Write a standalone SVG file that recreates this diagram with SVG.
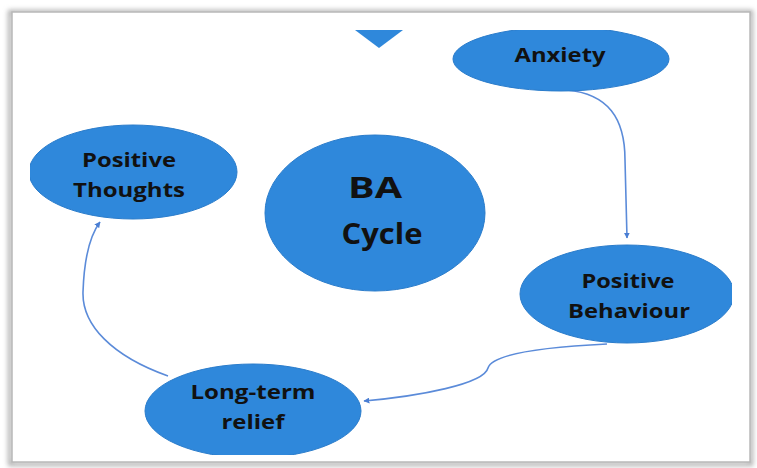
<svg xmlns="http://www.w3.org/2000/svg" width="757" height="468" viewBox="0 0 757 468">
  <style>
    .node { fill: #2F88DB; stroke: #2A7CCB; stroke-width: 1; }
    .lbl { font-family: "Open Sans", Lato, "Liberation Sans", sans-serif; font-weight: bold; font-size: 20px; fill: #111; text-anchor: middle; }
    .big { font-size: 28px; }
    .conn { fill: none; stroke: #5B8BD9; stroke-width: 1.6; }
  </style>
  <defs>
    <marker id="arr" viewBox="0 0 10 10" refX="9" refY="5" markerWidth="6" markerHeight="6" orient="auto" markerUnits="userSpaceOnUse">
      <path d="M0,0 L10,5 L0,10 z" fill="#4A7ED3"/>
    </marker>
    <filter id="shadow" x="-5%" y="-5%" width="110%" height="110%">
      <feGaussianBlur stdDeviation="2.5"/>
    </filter>
    <clipPath id="clip">
      <rect x="30" y="30" width="702" height="425"/>
    </clipPath>
  </defs>
  <rect width="757" height="468" fill="#ffffff"/>
  <g id="frame">
    <rect x="10" y="12" width="741" height="452" fill="none" stroke="#aaaaaa" stroke-width="4" filter="url(#shadow)"/>
    <rect x="12" y="12" width="738" height="450" fill="#ffffff" stroke="#b8b8b8" stroke-width="1.5"/>
  </g>
  <g clip-path="url(#clip)">
    <g id="marker-triangle">
      <polygon points="355,30 403,30 379,48" fill="#2F88DB"/>
    </g>
    <g id="connectors">
      <path class="conn" d="M567,90 C608,94 625,118 625,160 L627,238" marker-end="url(#arr)"/>
      <path class="conn" d="M607,344 C545,347 492,354 488,368 C484,384 420,396 364,401" marker-end="url(#arr)"/>
      <path class="conn" d="M168,376 C112,356 82,325 83,292 C84,262 88,238 100,222" marker-end="url(#arr)"/>
    </g>
    <g id="anxiety">
      <ellipse class="node" cx="561" cy="59" rx="108" ry="32"/>
      <text class="lbl" x="560" y="62" textLength="91" lengthAdjust="spacingAndGlyphs">Anxiety</text>
    </g>
    <g id="positive-behaviour">
      <ellipse class="node" cx="627" cy="294" rx="107" ry="49"/>
      <text class="lbl" x="628" y="288" textLength="93" lengthAdjust="spacingAndGlyphs">Positive</text>
      <text class="lbl" x="629" y="318" textLength="122" lengthAdjust="spacingAndGlyphs">Behaviour</text>
    </g>
    <g id="long-term-relief">
      <ellipse class="node" cx="253" cy="411" rx="108" ry="47"/>
      <text class="lbl" x="253" y="399" textLength="125" lengthAdjust="spacingAndGlyphs">Long-term</text>
      <text class="lbl" x="253" y="429" textLength="63" lengthAdjust="spacingAndGlyphs">relief</text>
    </g>
    <g id="positive-thoughts">
      <ellipse class="node" cx="133" cy="172" rx="104" ry="47"/>
      <text class="lbl" x="129" y="167" textLength="94" lengthAdjust="spacingAndGlyphs">Positive</text>
      <text class="lbl" x="129" y="197" textLength="112" lengthAdjust="spacingAndGlyphs">Thoughts</text>
    </g>
    <g id="ba-cycle">
      <ellipse class="node" cx="375" cy="213" rx="110" ry="78"/>
      <text class="lbl big" x="375" y="198" textLength="54" lengthAdjust="spacingAndGlyphs">BA</text>
      <text class="lbl big" x="382" y="244" textLength="81" lengthAdjust="spacingAndGlyphs">Cycle</text>
    </g>
  </g>
</svg>
